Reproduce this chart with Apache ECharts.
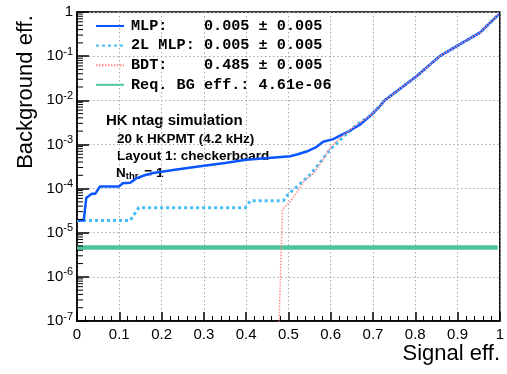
<!DOCTYPE html>
<html>
<head>
<meta charset="utf-8">
<script src="https://cdn.jsdelivr.net/npm/echarts@6/dist/echarts.min.js"></script>
<style>
html, body { margin: 0; padding: 0; background: #fff; }
#roc { width: 507px; height: 374px; }
</style>
</head>
<body>
<div id="roc"></div>
<script>
// [signal eff, background eff]
var mlp = [
    [0.003, 1.9e-5], [0.016, 1.9e-5], [0.022, 6.2e-5], [0.028, 6.8e-5], [0.035, 7.6e-5],
    [0.043, 7.6e-5], [0.054, 1.11e-4], [0.099, 1.11e-4], [0.108, 1.32e-4], [0.126, 1.35e-4],
    [0.14, 1.7e-4], [0.16, 2.0e-4], [0.18, 2.25e-4], [0.232, 2.66e-4], [0.287, 3.16e-4],
    [0.35, 3.8e-4], [0.4, 4.5e-4], [0.46, 5.0e-4], [0.504, 5.4e-4], [0.52, 5.9e-4],
    [0.543, 6.9e-4], [0.566, 8.7e-4], [0.582, 1.15e-3], [0.606, 1.32e-3], [0.622, 1.58e-3],
    [0.645, 2.04e-3], [0.669, 2.8e-3], [0.693, 4.4e-3], [0.716, 7.3e-3], [0.728, 1.0e-2],
    [0.803, 3.5e-2], [0.858, 0.1], [0.905, 0.185], [0.953, 0.34], [0.998, 0.9]
];
var mlp2L = [
    [0.0, 1.9e-5], [0.126, 1.9e-5], [0.146, 3.7e-5], [0.398, 3.7e-5], [0.41, 5.3e-5],
    [0.488, 5.3e-5], [0.5, 7.6e-5], [0.52, 1.1e-4], [0.551, 2.05e-4], [0.574, 3.8e-4],
    [0.598, 7.6e-4], [0.622, 1.26e-3], [0.661, 2.8e-3], [0.693, 4.4e-3], [0.716, 7.3e-3],
    [0.728, 1.0e-2], [0.803, 3.5e-2], [0.858, 0.1], [0.905, 0.185], [0.953, 0.34], [0.998, 0.9]
];
var bdt = [
    [0.477, 5e-8], [0.486, 3.4e-5], [0.504, 5.0e-5], [0.524, 9.3e-5], [0.535, 1.4e-4],
    [0.559, 2.2e-4], [0.582, 4.5e-4], [0.598, 8.3e-4], [0.622, 1.4e-3], [0.661, 2.8e-3],
    [0.693, 4.4e-3], [0.716, 7.3e-3], [0.728, 1.0e-2], [0.803, 3.5e-2], [0.858, 0.1],
    [0.905, 0.185], [0.953, 0.34], [0.998, 0.9]
];
var reqBG = [[0.0, 4.61e-6], [0.995, 4.61e-6]];

var names = [
    'MLP:    0.005 \u00b1 0.005',
    '2L MLP: 0.005 \u00b1 0.005',
    'BDT:    0.485 \u00b1 0.005',
    'Req. BG eff.: 4.61e-06'
];

// log minor ticks 2..9 in each decade
var yMinor = [];
for (var d = -7; d < 0; d++) {
    for (var m = 2; m <= 9; m++) {
        yMinor.push([0, m * Math.pow(10, d)]);
    }
}

var option = {
    animation: false,
    backgroundColor: '#fff',
    grid: {
        left: 77,
        right: 7,
        top: 12,
        bottom: 53,
        show: true,
        borderColor: '#000',
        borderWidth: 1.5
    },
    legend: {
        orient: 'vertical',
        left: 90,
        top: 13,
        itemWidth: 28,
        itemHeight: 14,
        itemGap: 3.6,
        data: names,
        itemStyle: { opacity: 0 },
        textStyle: {
            fontFamily: 'Liberation Mono',
            fontWeight: 'bold',
            fontSize: 15.2,
            lineHeight: 16,
            color: '#000',
            padding: [0, 0, 0, 2]
        }
    },
    xAxis: {
        type: 'value',
        min: 0,
        max: 1,
        interval: 0.1,
        axisLine: { lineStyle: { color: '#000', width: 1.5 } },
        axisTick: { inside: true, length: 9, lineStyle: { color: '#000', width: 1.5 } },
        minorTick: { show: true, splitNumber: 5, length: 5, lineStyle: { color: '#000', width: 1 } },
        axisLabel: {
            margin: 6,
            fontFamily: 'Liberation Sans',
            fontSize: 15,
            color: '#000'
        },
        splitLine: { show: true, lineStyle: { color: '#a3a8b3', type: [1.5, 2.5], width: 1 } }
    },
    yAxis: {
        type: 'log',
        logBase: 10,
        min: 1e-7,
        max: 1,
        axisLine: { lineStyle: { color: '#000', width: 1.5 } },
        axisTick: { inside: true, length: 12, lineStyle: { color: '#000', width: 1.5 } },
        axisLabel: {
            margin: 4,
            formatter: function (v) {
                var e = Math.round(Math.log10(v));
                return e === 0 ? '{b|1}' : '{b|10}{s|' + e + '}';
            },
            rich: {
                b: { fontFamily: 'Liberation Sans', fontSize: 15, color: '#000' },
                s: { fontFamily: 'Liberation Sans', fontSize: 11, color: '#000', padding: [0, 0, 9, 0] }
            }
        },
        splitLine: { show: true, lineStyle: { color: '#a3a8b3', type: [1.5, 2.5], width: 1 } }
    },
    series: [
        {
            name: names[0],
            type: 'line',
            data: mlp,
            symbol: 'none',
            z: 4,
            lineStyle: { color: '#0a55ff', width: 2.5 },
            itemStyle: { color: '#0a55ff' }
        },
        {
            name: names[1],
            type: 'line',
            data: mlp2L,
            symbol: 'none',
            z: 3,
            lineStyle: { color: '#45bdf5', width: 3, type: [3, 3] },
            itemStyle: { color: '#45bdf5' }
        },
        {
            name: names[2],
            type: 'line',
            data: bdt,
            symbol: 'none',
            z: 5,
            lineStyle: { color: '#ff8888', width: 1.5, type: [1.5, 1.5] },
            itemStyle: { color: '#ff8888' }
        },
        {
            name: names[3],
            type: 'line',
            data: reqBG,
            symbol: 'none',
            z: 2,
            lineStyle: { color: '#4cc59c', width: 4.5 },
            itemStyle: { color: '#4cc59c' }
        },
        {
            type: 'custom',
            silent: true,
            data: yMinor,
            z: 6,
            renderItem: function (params, api) {
                var p = api.coord([0, api.value(1)]);
                return {
                    type: 'line',
                    shape: { x1: p[0], y1: p[1], x2: p[0] + 6, y2: p[1] },
                    style: { stroke: '#000', lineWidth: 1 }
                };
            }
        }
    ],
    graphic: [
        {
            type: 'text', x: 106, y: 121,
            style: { text: 'HK ntag simulation', fontFamily: 'Liberation Sans', fontWeight: 'bold', fontSize: 15, fill: '#000', verticalAlign: 'middle' }
        },
        {
            type: 'text', x: 117, y: 139,
            style: { text: '20 k HKPMT (4.2 kHz)', fontFamily: 'Liberation Sans', fontWeight: 'bold', fontSize: 13.5, fill: '#000', verticalAlign: 'middle' }
        },
        {
            type: 'text', x: 117, y: 156,
            style: { text: 'Layout 1: checkerboard', fontFamily: 'Liberation Sans', fontWeight: 'bold', fontSize: 13.5, fill: '#000', verticalAlign: 'middle' }
        },
        {
            type: 'text', x: 116, y: 173,
            style: {
                text: '{a|N}{s|thr.}{a| = 1}',
                verticalAlign: 'middle',
                rich: {
                    a: { fontFamily: 'Liberation Sans', fontWeight: 'bold', fontSize: 13.5, fill: '#000' },
                    s: { fontFamily: 'Liberation Sans', fontWeight: 'bold', fontSize: 9.5, fill: '#000', padding: [7, 0, 0, 0] }
                }
            }
        },
        {
            type: 'text', x: 26, y: 92, rotation: Math.PI / 2,
            style: { text: 'Background eff.', fontFamily: 'Liberation Sans', fontSize: 22, fill: '#000', align: 'center', verticalAlign: 'middle' }
        },
        {
            type: 'text', x: 500, y: 354,
            style: { text: 'Signal eff.', fontFamily: 'Liberation Sans', fontSize: 22, fill: '#000', align: 'right', verticalAlign: 'middle' }
        }
    ]
};

var roc = echarts.init(document.getElementById('roc'));
roc.setOption(option);
</script>
</body>
</html>
